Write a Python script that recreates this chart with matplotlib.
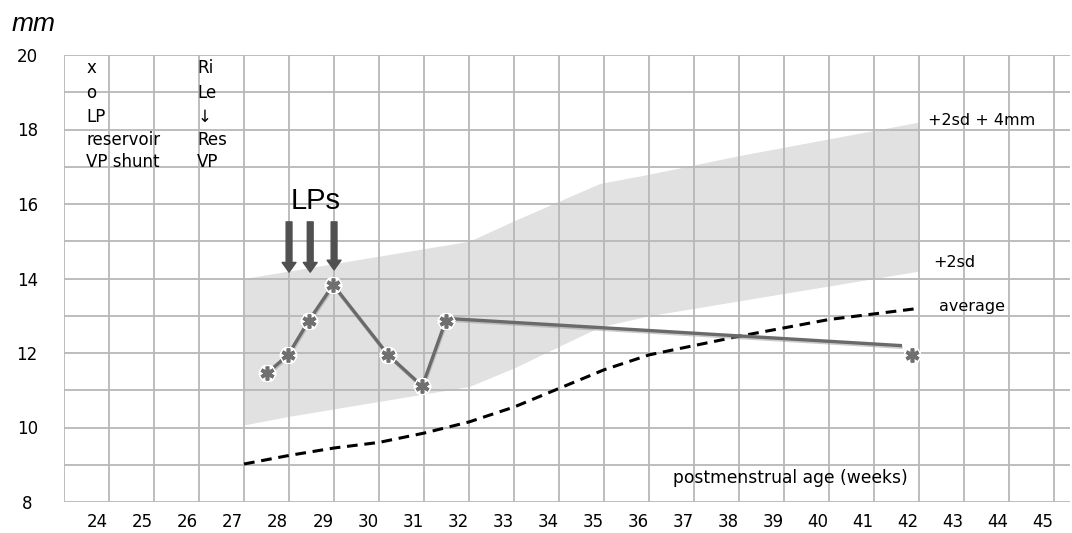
import matplotlib
matplotlib.use("Agg")
import matplotlib.pyplot as plt
import matplotlib.patheffects as pe

# ---------------------- данные ----------------------
# ось x: недели (сетка на целых значениях)
weeks_labels = list(range(24, 46))
grid_weeks = list(range(23, 46))

# +2sd + 4mm (верхняя граница) и +2sd (нижняя граница) серой полосы
band_x = [27, 28, 30, 32, 33, 34.9, 36, 38, 40, 42]
band_upper = [14.0, 14.2, 14.6, 15.0, 15.55, 16.55, 16.8, 17.3, 17.75, 18.2]
band_lower = [10.07, 10.3, 10.7, 11.1, 11.6, 12.7, 13.0, 13.4, 13.8, 14.2]

# среднее (пунктир)
avg_x = [27, 28, 29, 30, 31, 32, 33, 34, 35, 36, 37, 38, 40, 42]
avg_y = [9.02, 9.25, 9.45, 9.6, 9.85, 10.15, 10.55, 11.05, 11.55, 11.95, 12.2, 12.45, 12.9, 13.2]

# измерения пациента
pat_x = [27.52, 27.98, 28.44, 28.98, 30.2, 30.96, 31.48]
pat_y = [11.47, 11.95, 12.87, 13.83, 11.95, 11.11, 12.86]
trend_x = [31.48, 41.58]
trend_y = [12.93, 12.2]
last_x = [41.85]
last_y = [11.95]

# люмбальные пункции (стрелки)
lp_x = [28.0, 28.47, 29.0]
lp_top = [15.52, 15.52, 15.52]
lp_tip = [14.17, 14.17, 14.23]

legend_left = ["x", "o", "LP", "reservoir", "VP shunt"]
legend_right = ["Ri", "Le", "\u2193", "Res", "VP"]
legend_rows = [19.65, 18.98, 18.34, 17.72, 17.13]

# ---------------------- рисунок ----------------------
fig = plt.figure(figsize=(10.72, 5.33), dpi=100)
ax = fig.add_axes([64 / 1072, 31 / 533, 1006 / 1072, 447 / 533])
ax.set_xlim(23, 45.35)
ax.set_ylim(8, 20)

ax.fill_between(band_x, band_lower, band_upper, color="#e1e1e1", lw=0, zorder=1)

ax.plot(avg_x, avg_y, color="black", lw=2.2, ls=(0, (3.5, 2.2)), zorder=3)

shadow = [pe.SimpleLineShadow(offset=(0.5, -1.2), shadow_color="#999999", alpha=0.5), pe.Normal()]
ax.plot(pat_x, pat_y, color="#6a6a6a", lw=2.4, zorder=3, path_effects=shadow)
ax.plot(trend_x, trend_y, color="#6a6a6a", lw=2.4, zorder=3, path_effects=shadow)

star_x = pat_x + last_x
star_y = pat_y + last_y
ax.plot(star_x, star_y, ls="none", marker=(6, 2, 0), ms=12, mew=5.5, color="white", zorder=4)
ax.plot(star_x, star_y, ls="none", marker=(6, 2, 0), ms=10, mew=2.6, color="#707070", zorder=5)

for x, top, tip in zip(lp_x, lp_top, lp_tip):
    ax.annotate("", xy=(x, tip), xytext=(x, top),
                arrowprops=dict(width=4.2, headwidth=10, headlength=7, color="#505050", shrink=0),
                zorder=6)
ax.text(28.6, 16.07, "LPs", fontsize=21, family="Liberation Sans", ha="center", va="center", zorder=6)

for lab, y in zip(legend_left, legend_rows):
    ax.text(23.49, y, lab, fontsize=12, ha="left", va="center")
for lab, y in zip(legend_right, legend_rows):
    ax.text(25.96, y, lab, fontsize=12, ha="left", va="center")

ax.text(42.2, 18.25, "+2sd + 4mm", fontsize=11.5, ha="left", va="center")
ax.text(42.31, 14.42, "+2sd", fontsize=11.5, ha="left", va="center")
ax.text(42.44, 13.26, "average", fontsize=11.5, ha="left", va="center")
ax.text(36.53, 8.64, "postmenstrual age (weeks)", fontsize=12.3, ha="left", va="center")

# оси и сетка
ax.set_xticks([w - 0.25 for w in weeks_labels])
ax.set_xticklabels([str(w) for w in weeks_labels], fontsize=12)
ax.set_xticks(grid_weeks, minor=True)
ax.set_yticks(range(8, 21, 2))
ax.set_yticklabels([str(v) for v in range(8, 21, 2)], fontsize=12, ha="center")
ax.set_yticks(range(9, 21, 2), minor=True)
ax.tick_params(which="both", length=0)
ax.tick_params(axis="x", pad=8)
ax.tick_params(axis="y", pad=26.5)
ax.set_axisbelow("line")
ax.grid(axis="x", which="minor", color="#b8b8b8", lw=1.3)
ax.grid(axis="y", which="both", color="#b8b8b8", lw=1.3)
for s in ax.spines.values():
    s.set_visible(False)

fig.text(12 / 1072, 1 - 24 / 533, "mm", fontsize=19, style="italic", family="Liberation Sans",
         ha="left", va="center")

fig.savefig("out.png", dpi=100)
